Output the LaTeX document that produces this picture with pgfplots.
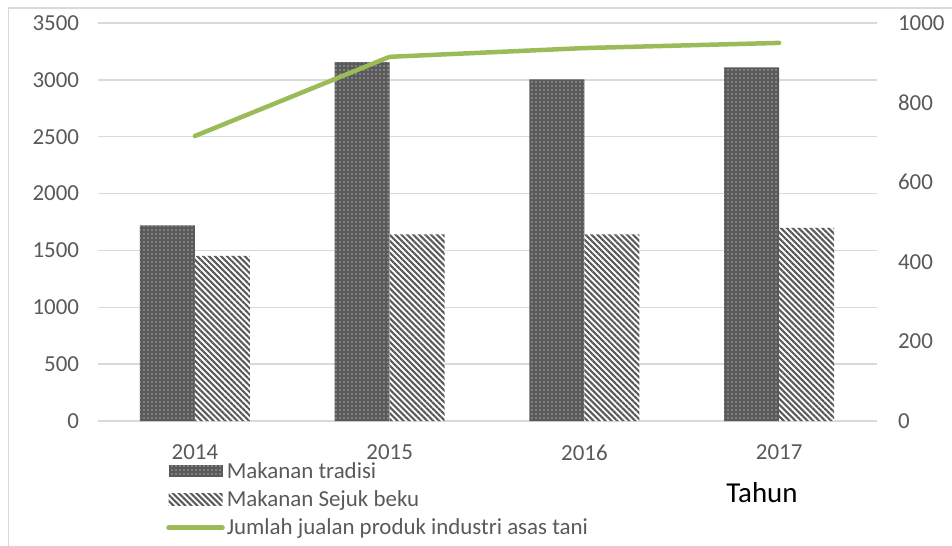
\documentclass[border=0pt]{standalone}
\usepackage{pgfplots}
\pgfplotsset{compat=1.18}
\usepackage{fontspec}
\setmainfont{Carlito}
\usetikzlibrary{patterns.meta}
\definecolor{lbl}{HTML}{595959}
\definecolor{grd}{HTML}{D9D9D9}
\definecolor{barD}{HTML}{5A5A5A}
\definecolor{dotc}{HTML}{A8A8A8}
\definecolor{lgreen}{HTML}{9BBB59}
\tikzset{
  tradstyle/.style={fill=barD, draw=none, postaction={pattern={Dots[distance=4bp, radius=0.85bp]}, pattern color=dotc}},
  bekustyle/.style={fill=white, draw=none, postaction={pattern={Lines[angle=-45, distance=4.2bp, line width=2.1bp]}, pattern color=barD}},
}
\begin{document}
\begin{tikzpicture}
\useasboundingbox (0,0) rectangle (952bp,546bp);
\draw[grd, line width=1.5bp] (8.5bp,0) -- (8.5bp,538bp) -- (952bp,538bp);
\begin{axis}[
  at={(97.5bp,125bp)}, anchor=south west,
  scale only axis, width=779bp, height=398bp,
  xmin=-0.5, xmax=3.5, ymin=0, ymax=3500,
  xtick={0,1,2,3}, xticklabels={2014,2015,2016,2017},
  ytick={0,500,...,3500},
  ymajorgrids, major grid style={draw=grd, line width=1.3bp},
  axis line style={draw=none}, tick style={draw=none},
  ticklabel style={font=\fontsize{23}{27}\selectfont, text=lbl},
  yticklabel style={xshift=-15bp},
  xticklabel style={yshift=-16bp},
  ybar, bar width=55bp,
  clip=false,
  /pgf/number format/assume math mode=true,
  /pgf/number format/1000 sep={},
]
\addplot[tradstyle, bar shift=-27.5bp] coordinates {(0,1720) (1,3155) (2,3005) (3,3110)};
\addplot[bekustyle, bar shift=27.5bp] coordinates {(0,1452) (1,1642) (2,1642) (3,1698)};
\node[font=\fontsize{29}{34}\selectfont, text=black, anchor=center] at (axis description cs:0.853,-0.181) {Tahun};
\end{axis}
\begin{axis}[
  at={(97.5bp,125bp)}, anchor=south west,
  scale only axis, width=779bp, height=398bp,
  xmin=-0.5, xmax=3.5, ymin=0, ymax=1000,
  xtick=\empty, ytick={0,200,...,1000},
  axis y line*=right, axis x line=none,
  axis line style={draw=none}, tick style={draw=none},
  ticklabel style={font=\fontsize{23}{27}\selectfont, text=lbl},
  yticklabel style={xshift=18bp},
  /pgf/number format/assume math mode=true,
  /pgf/number format/1000 sep={},
  legend style={at={(axis description cs:0.088,-0.098)}, anchor=north west, draw=none, fill=none,
    font=\fontsize{23}{27}\selectfont, text=lbl, row sep=7bp, inner sep=0pt,
    nodes={inner sep=2bp}},
  legend cell align=left,
]
\addlegendimage{draw=none, legend image code/.code={\fill[barD] (0bp,-6bp) rectangle (54bp,6bp); \path[draw=none, pattern={Dots[distance=4bp, radius=0.85bp]}, pattern color=dotc] (0bp,-6bp) rectangle (54bp,6bp);}}
\addlegendentry{Makanan tradisi}
\addlegendimage{draw=none, legend image code/.code={\path[draw=none, pattern={Lines[angle=-45, distance=4.2bp, line width=2.1bp]}, pattern color=barD] (0bp,-6bp) rectangle (54bp,6bp);}}
\addlegendentry{Makanan Sejuk beku}
\addplot[color=lgreen, line width=4.5bp, line cap=round, line join=round, mark=none,
  legend image code/.code={\draw[lgreen, line width=4.5bp, line cap=round] (0bp,0bp) -- (54bp,0bp);}]
  coordinates {(0,716) (1,915) (2,937) (3,950)};
\addlegendentry{Jumlah jualan produk industri asas tani}
\end{axis}
\end{tikzpicture}
\end{document}
